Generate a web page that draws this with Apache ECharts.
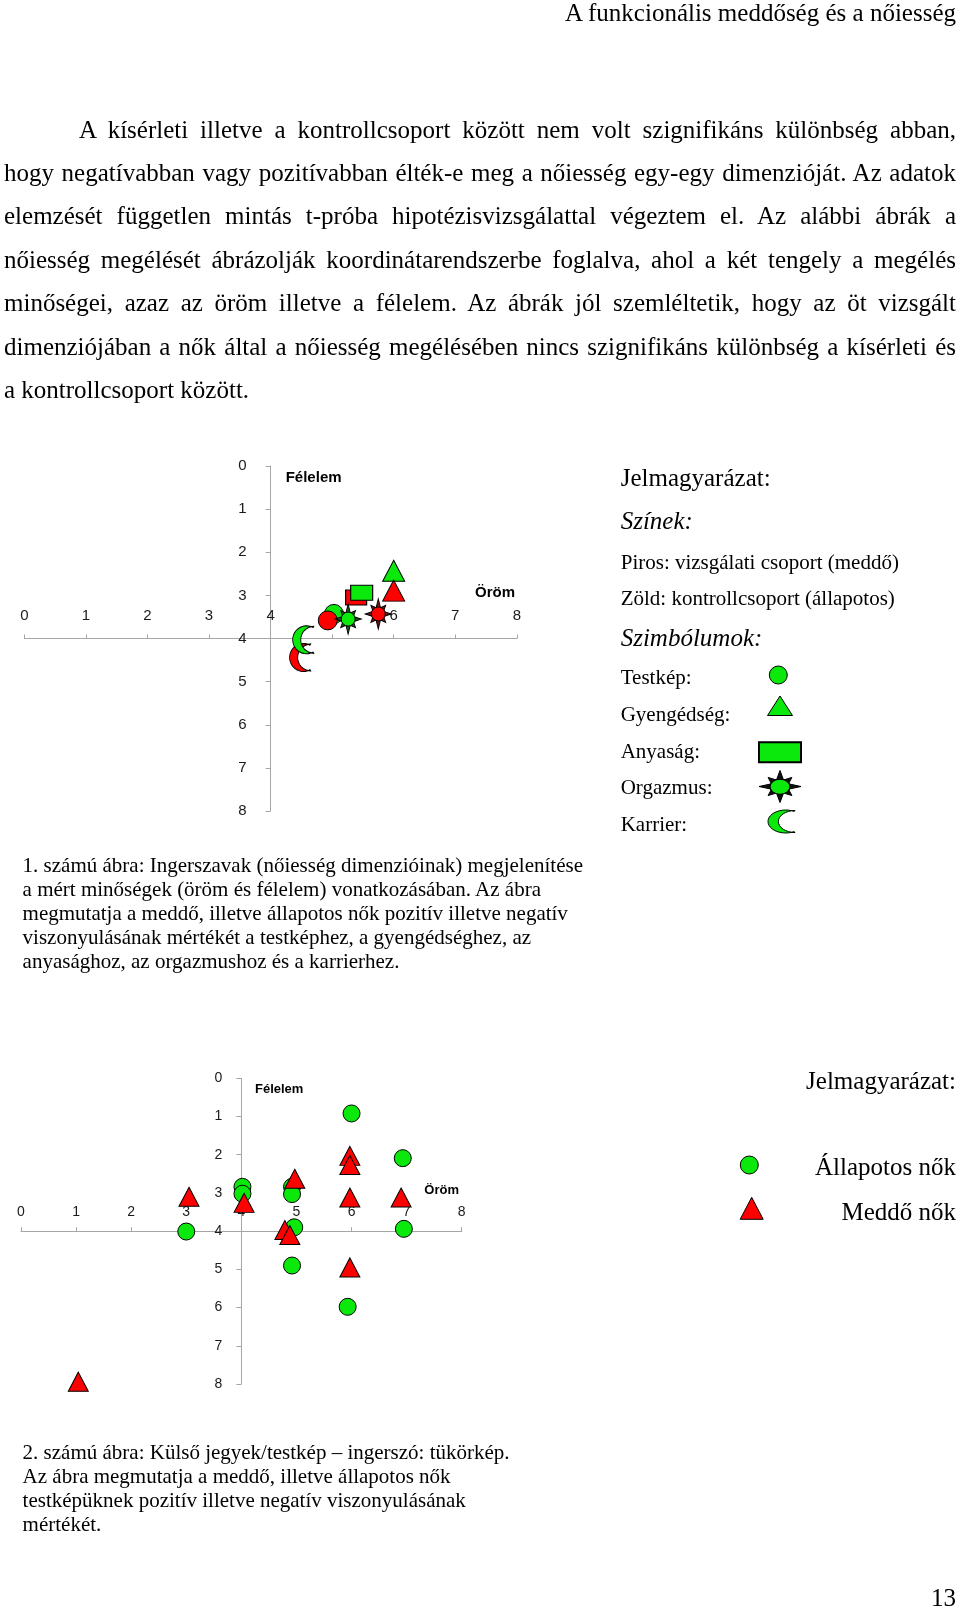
<!DOCTYPE html>
<html><head><meta charset="utf-8">
<script src="https://cdn.jsdelivr.net/npm/echarts@6/dist/echarts.min.js"></script>
<style>
html,body{margin:0;padding:0;background:#fff;}
body{width:960px;height:1613px;position:relative;overflow:hidden;font-family:"Liberation Serif","Times New Roman",serif;color:#000;}
#chart{position:absolute;left:0;top:0;width:960px;height:1613px;}
.t{position:absolute;white-space:nowrap;}
.jl span{display:inline-block;white-space:nowrap;}
.cap{position:absolute;left:22.6px;font-size:21px;line-height:23.9px;white-space:nowrap;}
</style></head><body>
<div id="chart"></div>
<div class="t" style="right:4px;top:-2px;font-size:25px;line-height:30px">A funkcionális meddőség és a nőiesség</div>
<div id="para"></div>
<div class="cap" style="top:854.3px">1. számú ábra: Ingerszavak (nőiesség dimenzióinak) megjelenítése<br>a mért minőségek (öröm és félelem) vonatkozásában. Az ábra<br>megmutatja a meddő, illetve állapotos nők pozitív illetve negatív<br>viszonyulásának mértékét a testképhez, a gyengédséghez, az<br>anyasághoz, az orgazmushoz és a karrierhez.</div>
<div class="cap" style="top:1440.9px">2. számú ábra: Külső jegyek/testkép – ingerszó: tükörkép.<br>Az ábra megmutatja a meddő, illetve állapotos nők<br>testképüknek pozitív illetve negatív viszonyulásának<br>mértékét.</div>
<div class="t" style="right:4px;top:1582.6px;font-size:25px;line-height:30px">13</div>
<script>
// ---------- text ----------
const paraLines = [
  "A kísérleti illetve a kontrollcsoport között nem volt szignifikáns különbség abban,",
  "hogy negatívabban vagy pozitívabban élték-e meg a nőiesség egy-egy dimenzióját. Az adatok",
  "elemzését független mintás t-próba hipotézisvizsgálattal végeztem el. Az alábbi ábrák a",
  "nőiesség megélését ábrázolják koordinátarendszerbe foglalva, ahol a két tengely a megélés",
  "minőségei, azaz az öröm illetve a félelem. Az ábrák jól szemléltetik, hogy az öt vizsgált",
  "dimenziójában a nők által a nőiesség megélésében nincs szignifikáns különbség a kísérleti és",
  "a kontrollcsoport között."
];

// ---------- data: figure 1 (dimensions of femininity) ----------
const dims = ['Testkép', 'Gyengédség', 'Anyaság', 'Orgazmus', 'Karrier'];
// Meddő (red): öröm (x), félelem (y)
const meddoOrom    = [4.93, 6.00, 5.39, 5.75, 4.48];
const meddoFelelem = [3.58, 2.89, 3.05, 3.43, 4.44];
// Állapotos (green)
const allapOrom    = [5.03, 6.00, 5.48, 5.26, 4.53];
const allapFelelem = [3.43, 2.43, 2.94, 3.55, 4.03];

// ---------- data: figure 2 (testkép, individual answers) ----------
const allap2Orom    = [6.00, 6.93, 4.02, 4.02, 4.92, 4.92, 3.00, 4.96, 6.95, 4.92, 5.93];
const allap2Felelem = [0.92, 2.09, 2.84, 3.02, 2.84, 3.03, 4.01, 3.90, 3.94, 4.90, 5.98];
const meddo2Orom    = [3.05, 4.05, 4.97, 5.97, 5.97, 5.97, 6.90, 4.79, 4.88, 5.97, 1.04];
const meddo2Felelem = [3.10, 3.26, 2.63, 2.03, 2.27, 3.12, 3.12, 3.97, 4.10, 4.95, 7.94];

const axisMin = 0, axisMax = 8, axisStep = 1;

// ---------- paragraph layout ----------
(function(){
  const para = document.getElementById('para');
  paraLines.forEach((txt, i) => {
    const d = document.createElement('div');
    d.className = 't' + (i < paraLines.length - 1 ? ' jl' : '');
    const left = i === 0 ? 79 : 4;
    d.style.left = left + 'px';
    d.style.top = (107.6 + i * 43.4) + 'px';
    d.style.fontSize = '25px';
    d.style.lineHeight = '43.4px';
    d.dataset.w = 956 - left;
    const s = document.createElement('span');
    s.textContent = txt;
    d.appendChild(s);
    para.appendChild(d);
  });
  function justify(){
    document.querySelectorAll('.jl').forEach(el => {
      const span = el.firstElementChild;
      span.style.wordSpacing = '0px';
      const nat = span.getBoundingClientRect().width;
      const n = (span.textContent.match(/ /g) || []).length;
      span.style.wordSpacing = ((parseFloat(el.dataset.w) - nat) / n) + 'px';
    });
  }
  justify();
  if (document.fonts && document.fonts.ready) document.fonts.ready.then(justify);
})();

// ---------- chart ----------
const GREEN = '#0be80b', RED = '#ff0000';
const G1 = {left: 24.3, top: 466, width: 492.5, height: 345};
const G2 = {left: 21, top: 1078.3, width: 440.7, height: 305.7};

// symbol outlines in a 100x100 box
function starPts(){
  const p = [];
  for (let i = 0; i < 16; i++) {
    const a = (i * 22.5 - 90) * Math.PI / 180;
    const r = i % 2 ? 22 : (i % 4 === 0 ? 50 : 40);
    p.push([50 + r * Math.cos(a), 50 + r * Math.sin(a)]);
  }
  return p;
}
function moonPts(){
  const p = [];
  const a0 = Math.atan2(-46, 25);
  for (let k = 0; k <= 24; k++) {
    const a = a0 - k * (2 * Math.PI + 2 * a0) / 24;
    p.push([50 + 48 * Math.cos(a), 50 + 48 * Math.sin(a)]);
  }
  const b0 = Math.atan2(46, -1);
  for (let k = 0; k <= 16; k++) {
    const b = b0 + k * (2 * Math.PI - 2 * b0) / 16;
    p.push([76 + 46.01 * Math.cos(b), 50 + 46.01 * Math.sin(b)]);
  }
  return p;
}
function toPath(p){ return 'path://M' + p.map(q => q[0].toFixed(2) + ',' + q[1].toFixed(2)).join('L') + 'Z'; }
function fitPts(p, x, y, w, h){
  const xs = p.map(q => q[0]), ys = p.map(q => q[1]);
  const x0 = Math.min(...xs), x1 = Math.max(...xs), y0 = Math.min(...ys), y1 = Math.max(...ys);
  return p.map(q => [x + (q[0] - x0) / (x1 - x0) * w, y + (q[1] - y0) / (y1 - y0) * h]);
}
const STAR = starPts(), MOON = moonPts();

function xAx(gi, g, fs, margin){
  return {
    gridIndex: gi, type: 'value', min: axisMin, max: axisMax, interval: axisStep,
    position: 'top', offset: -g.height / 2,
    axisLine: {show: true, onZero: false, lineStyle: {color: '#a6a6a6', width: 1}},
    axisTick: {show: true, inside: false, length: 4, lineStyle: {color: '#a6a6a6'}},
    axisLabel: {margin: margin, color: '#1a1a1a', fontFamily: 'Liberation Sans', fontSize: fs},
    splitLine: {show: false}
  };
}
function yAx(gi, g, fs, margin){
  return {
    gridIndex: gi, type: 'value', min: axisMin, max: axisMax, interval: axisStep, inverse: true,
    position: 'left', offset: -g.width / 2,
    axisLine: {show: true, onZero: false, lineStyle: {color: '#a6a6a6', width: 1}},
    axisTick: {show: true, inside: false, length: 5, lineStyle: {color: '#a6a6a6'}},
    axisLabel: {margin: margin, color: '#1a1a1a', fontFamily: 'Liberation Sans', fontSize: fs},
    splitLine: {show: false}
  };
}
const border = {borderColor: '#000', borderWidth: 1};
function pt(xs, ys, i){ return [[xs[i], ys[i]]]; }
function sc(name, gi, data, symbol, size, color){
  return {
    type: 'scatter', name: name, xAxisIndex: gi, yAxisIndex: gi, data: data,
    symbol: symbol, symbolSize: size, silent: true,
    itemStyle: Object.assign({color: color, opacity: 1}, border)
  };
}
const iT = dims.indexOf('Testkép'), iG = dims.indexOf('Gyengédség'), iA = dims.indexOf('Anyaság'),
      iO = dims.indexOf('Orgazmus'), iK = dims.indexOf('Karrier');

const series = [
  sc('Testkép – állapotos', 0, pt(allapOrom, allapFelelem, iT), 'circle', 19, GREEN),
  sc('Testkép – meddő', 0, pt(meddoOrom, meddoFelelem, iT), 'circle', 19, RED),
  sc('Anyaság – meddő', 0, pt(meddoOrom, meddoFelelem, iA), 'rect', [21, 15], RED),
  sc('Anyaság – állapotos', 0, pt(allapOrom, allapFelelem, iA), 'rect', [22, 15], GREEN),
  sc('Gyengédség – állapotos', 0, pt(allapOrom, allapFelelem, iG), 'triangle', [22, 21], GREEN),
  sc('Gyengédség – meddő', 0, pt(meddoOrom, meddoFelelem, iG), 'triangle', [22, 21], RED),
  sc('Orgazmus – állapotos (sugár)', 0, pt(allapOrom, allapFelelem, iO), toPath(STAR), [26, 30], '#1f5a1f'),
  sc('Orgazmus – állapotos', 0, pt(allapOrom, allapFelelem, iO), 'circle', 14, GREEN),
  sc('Orgazmus – meddő (sugár)', 0, pt(meddoOrom, meddoFelelem, iO), toPath(STAR), [26, 30], '#6e1a1a'),
  sc('Orgazmus – meddő', 0, pt(meddoOrom, meddoFelelem, iO), 'circle', 14, RED),
  sc('Karrier – meddő', 0, pt(meddoOrom, meddoFelelem, iK), toPath(MOON), [21, 28], RED),
  sc('Karrier – állapotos', 0, pt(allapOrom, allapFelelem, iK), toPath(MOON), [21, 28], GREEN),
  sc('Állapotos nők', 1, allap2Orom.map((x, i) => [x, allap2Felelem[i]]), 'circle', 17, GREEN),
  sc('Meddő nők', 1, meddo2Orom.map((x, i) => [x, meddo2Felelem[i]]), 'triangle', [20, 19], RED)
];

function txt(x, y, s, font, align){
  return {type: 'text', x: x, y: y, silent: true,
    style: {text: s, font: font, fill: '#000', align: align || 'left', verticalAlign: 'middle'}};
}
const SER = '"Liberation Serif", "Times New Roman", serif';
const ls = {stroke: '#000', lineWidth: 1};
const graphic = [
  // axis titles
  txt(285.7, 478.3, 'Félelem', 'bold 15px "Liberation Sans"'),
  txt(475, 593.3, 'Öröm', 'bold 15px "Liberation Sans"'),
  txt(255, 1089.3, 'Félelem', 'bold 13px "Liberation Sans"'),
  txt(424.3, 1190.7, 'Öröm', 'bold 13px "Liberation Sans"'),
  // legend 1
  txt(620.7, 479.5, 'Jelmagyarázat:', '25px ' + SER),
  txt(620.7, 522, 'Színek:', 'italic 25px ' + SER),
  txt(620.7, 563.3, 'Piros: vizsgálati csoport (meddő)', '21px ' + SER),
  txt(620.7, 599.5, 'Zöld: kontrollcsoport (állapotos)', '21px ' + SER),
  txt(620.7, 639, 'Szimbólumok:', 'italic 25px ' + SER),
  txt(620.7, 678.3, 'Testkép:', '21px ' + SER),
  txt(620.7, 715, 'Gyengédség:', '21px ' + SER),
  txt(620.7, 752.3, 'Anyaság:', '21px ' + SER),
  txt(620.7, 788.5, 'Orgazmus:', '21px ' + SER),
  txt(620.7, 825.3, 'Karrier:', '21px ' + SER),
  {type: 'circle', silent: true, shape: {cx: 778.3, cy: 675, r: 9}, style: Object.assign({fill: GREEN}, ls)},
  {type: 'polygon', silent: true, shape: {points: [[780, 696], [792.5, 715.5], [767.5, 715.5]]}, style: Object.assign({fill: GREEN}, ls)},
  {type: 'rect', silent: true, shape: {x: 759, y: 742.3, width: 42, height: 20}, style: {fill: GREEN, stroke: '#000', lineWidth: 2}},
  {type: 'polygon', silent: true, shape: {points: fitPts(STAR, 759, 770.5, 42, 32)}, style: {fill: '#111', stroke: '#000', lineWidth: 1}},
  {type: 'circle', silent: true, x: 780, y: 786.7, scaleX: 1, scaleY: 0.75, shape: {cx: 0, cy: 0, r: 10}, style: {fill: GREEN, stroke: '#000', lineWidth: 1.2}},
  {type: 'polygon', silent: true, shape: {points: fitPts(MOON, 768, 810, 27, 23)}, style: Object.assign({fill: GREEN}, ls)},
  // legend 2
  txt(956, 1082, 'Jelmagyarázat:', '25px ' + SER, 'right'),
  {type: 'circle', silent: true, shape: {cx: 749.3, cy: 1165, r: 9}, style: Object.assign({fill: GREEN}, ls)},
  txt(956, 1168.5, 'Állapotos nők', '25px ' + SER, 'right'),
  {type: 'polygon', silent: true, shape: {points: [[751.7, 1197.3], [763.2, 1219.3], [740.2, 1219.3]]}, style: Object.assign({fill: RED}, ls)},
  txt(956, 1213.5, 'Meddő nők', '25px ' + SER, 'right')
];

const chart = echarts.init(document.getElementById('chart'), null, {renderer: 'canvas'});
chart.setOption({
  animation: false,
  backgroundColor: 'transparent',
  grid: [
    {left: G1.left, top: G1.top, width: G1.width, height: G1.height, containLabel: false},
    {left: G2.left, top: G2.top, width: G2.width, height: G2.height, containLabel: false}
  ],
  xAxis: [xAx(0, G1, 15, 15), xAx(1, G2, 14, 12)],
  yAxis: [yAx(0, G1, 15, 24), yAx(1, G2, 14, 19)],
  series: series,
  graphic: graphic
});
</script>
</body></html>
